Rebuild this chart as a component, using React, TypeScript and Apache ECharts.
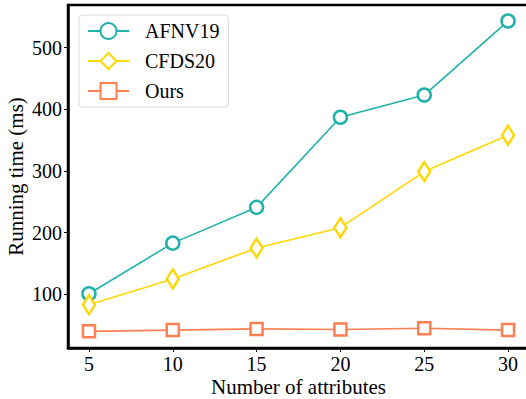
import React, { useEffect, useRef } from "react";
import * as echarts from "echarts";

const xValues = [5, 10, 15, 20, 25, 30];
const afnv19 = [101, 183, 241, 387, 423, 543];
const cfds20 = [83, 125, 175, 208, 299, 358];
const ours = [40, 42, 44, 43, 45, 42];
const xTicks = [5, 10, 15, 20, 25, 30];
const yTicks = [100, 200, 300, 400, 500];

const FONT = "Liberation Serif";

export default function App() {
  const ref = useRef<HTMLDivElement>(null);
  useEffect(() => {
    if (!ref.current) return;
    const chart = echarts.init(ref.current, undefined, { renderer: "svg" });
    const pts = (ys: number[]) => xValues.map((x, i) => [x, ys[i]]);
    const mk = (name: string, ys: number[], color: string, symbol: string, size: any) => ({
      name,
      type: "line",
      data: pts(ys),
      symbol,
      symbolSize: size,
      showAllSymbol: true,
      lineStyle: { color, width: 1.6 },
      itemStyle: { color: "#fff", borderColor: color, borderWidth: 2.5 },
      emphasis: { disabled: true },
    });
    chart.setOption({
      animation: false,
      backgroundColor: "#fff",
      textStyle: { fontFamily: FONT },
      grid: {
        left: 68, right: -3, top: 5, bottom: 51,
        containLabel: false,
        outerBoundsMode: "none",
        show: true, borderColor: "#000", borderWidth: 2.5, backgroundColor: "transparent",
      },
      legend: {
        left: 79,
        top: 15,
        orient: "vertical",
        itemWidth: 41,
        itemHeight: 20,
        itemGap: 10,
        padding: [6, 9, 6, 8],
        backgroundColor: "#fff",
        borderColor: "#d9d9d9",
        borderWidth: 1,
        borderRadius: 4,
        lineStyle: { width: 2 },
        textStyle: { fontFamily: FONT, fontSize: 20, lineHeight: 20, color: "#000", padding: [0, 0, 0, 11] },
        data: ["AFNV19", "CFDS20", "Ours"],
      },
      xAxis: {
        type: "value",
        min: 3.75,
        max: 31.25,
        name: "Number of attributes",
        nameLocation: "middle",
        nameGap: 28,
        nameMoveOverlap: false,
        nameTextStyle: { fontFamily: FONT, fontSize: 21, color: "#000" },
        axisLine: { show: true, lineStyle: { color: "#000", width: 2.5 } },
        axisTick: { show: true, customValues: xTicks, length: 4, lineStyle: { color: "#000", width: 1 } },
        axisLabel: { customValues: xTicks, fontFamily: FONT, fontSize: 20, color: "#000", margin: 6 },
        splitLine: { show: false },
      },
      yAxis: {
        type: "value",
        min: 13,
        max: 569,
        name: "Running time (ms)",
        nameLocation: "middle",
        nameGap: 42,
        nameMoveOverlap: false,
        nameTextStyle: { fontFamily: FONT, fontSize: 21, color: "#000" },
        axisLine: { show: true, lineStyle: { color: "#000", width: 2.5 } },
        axisTick: { show: true, customValues: yTicks, length: 4, lineStyle: { color: "#000", width: 1 } },
        axisLabel: { customValues: yTicks, fontFamily: FONT, fontSize: 20, color: "#000", margin: 6 },
        splitLine: { show: false },
      },
      series: [
        mk("AFNV19", afnv19, "#20B2AA", "circle", 13),
        mk("CFDS20", cfds20, "#FFD700", "diamond", [12, 19]),
        mk("Ours", ours, "#FF7F50", "rect", 12),
      ],
    });
    return () => chart.dispose();
  }, []);
  return <div ref={ref} style={{ width: 526, height: 399, position: "absolute", left: 0, top: 0 }} />;
}
